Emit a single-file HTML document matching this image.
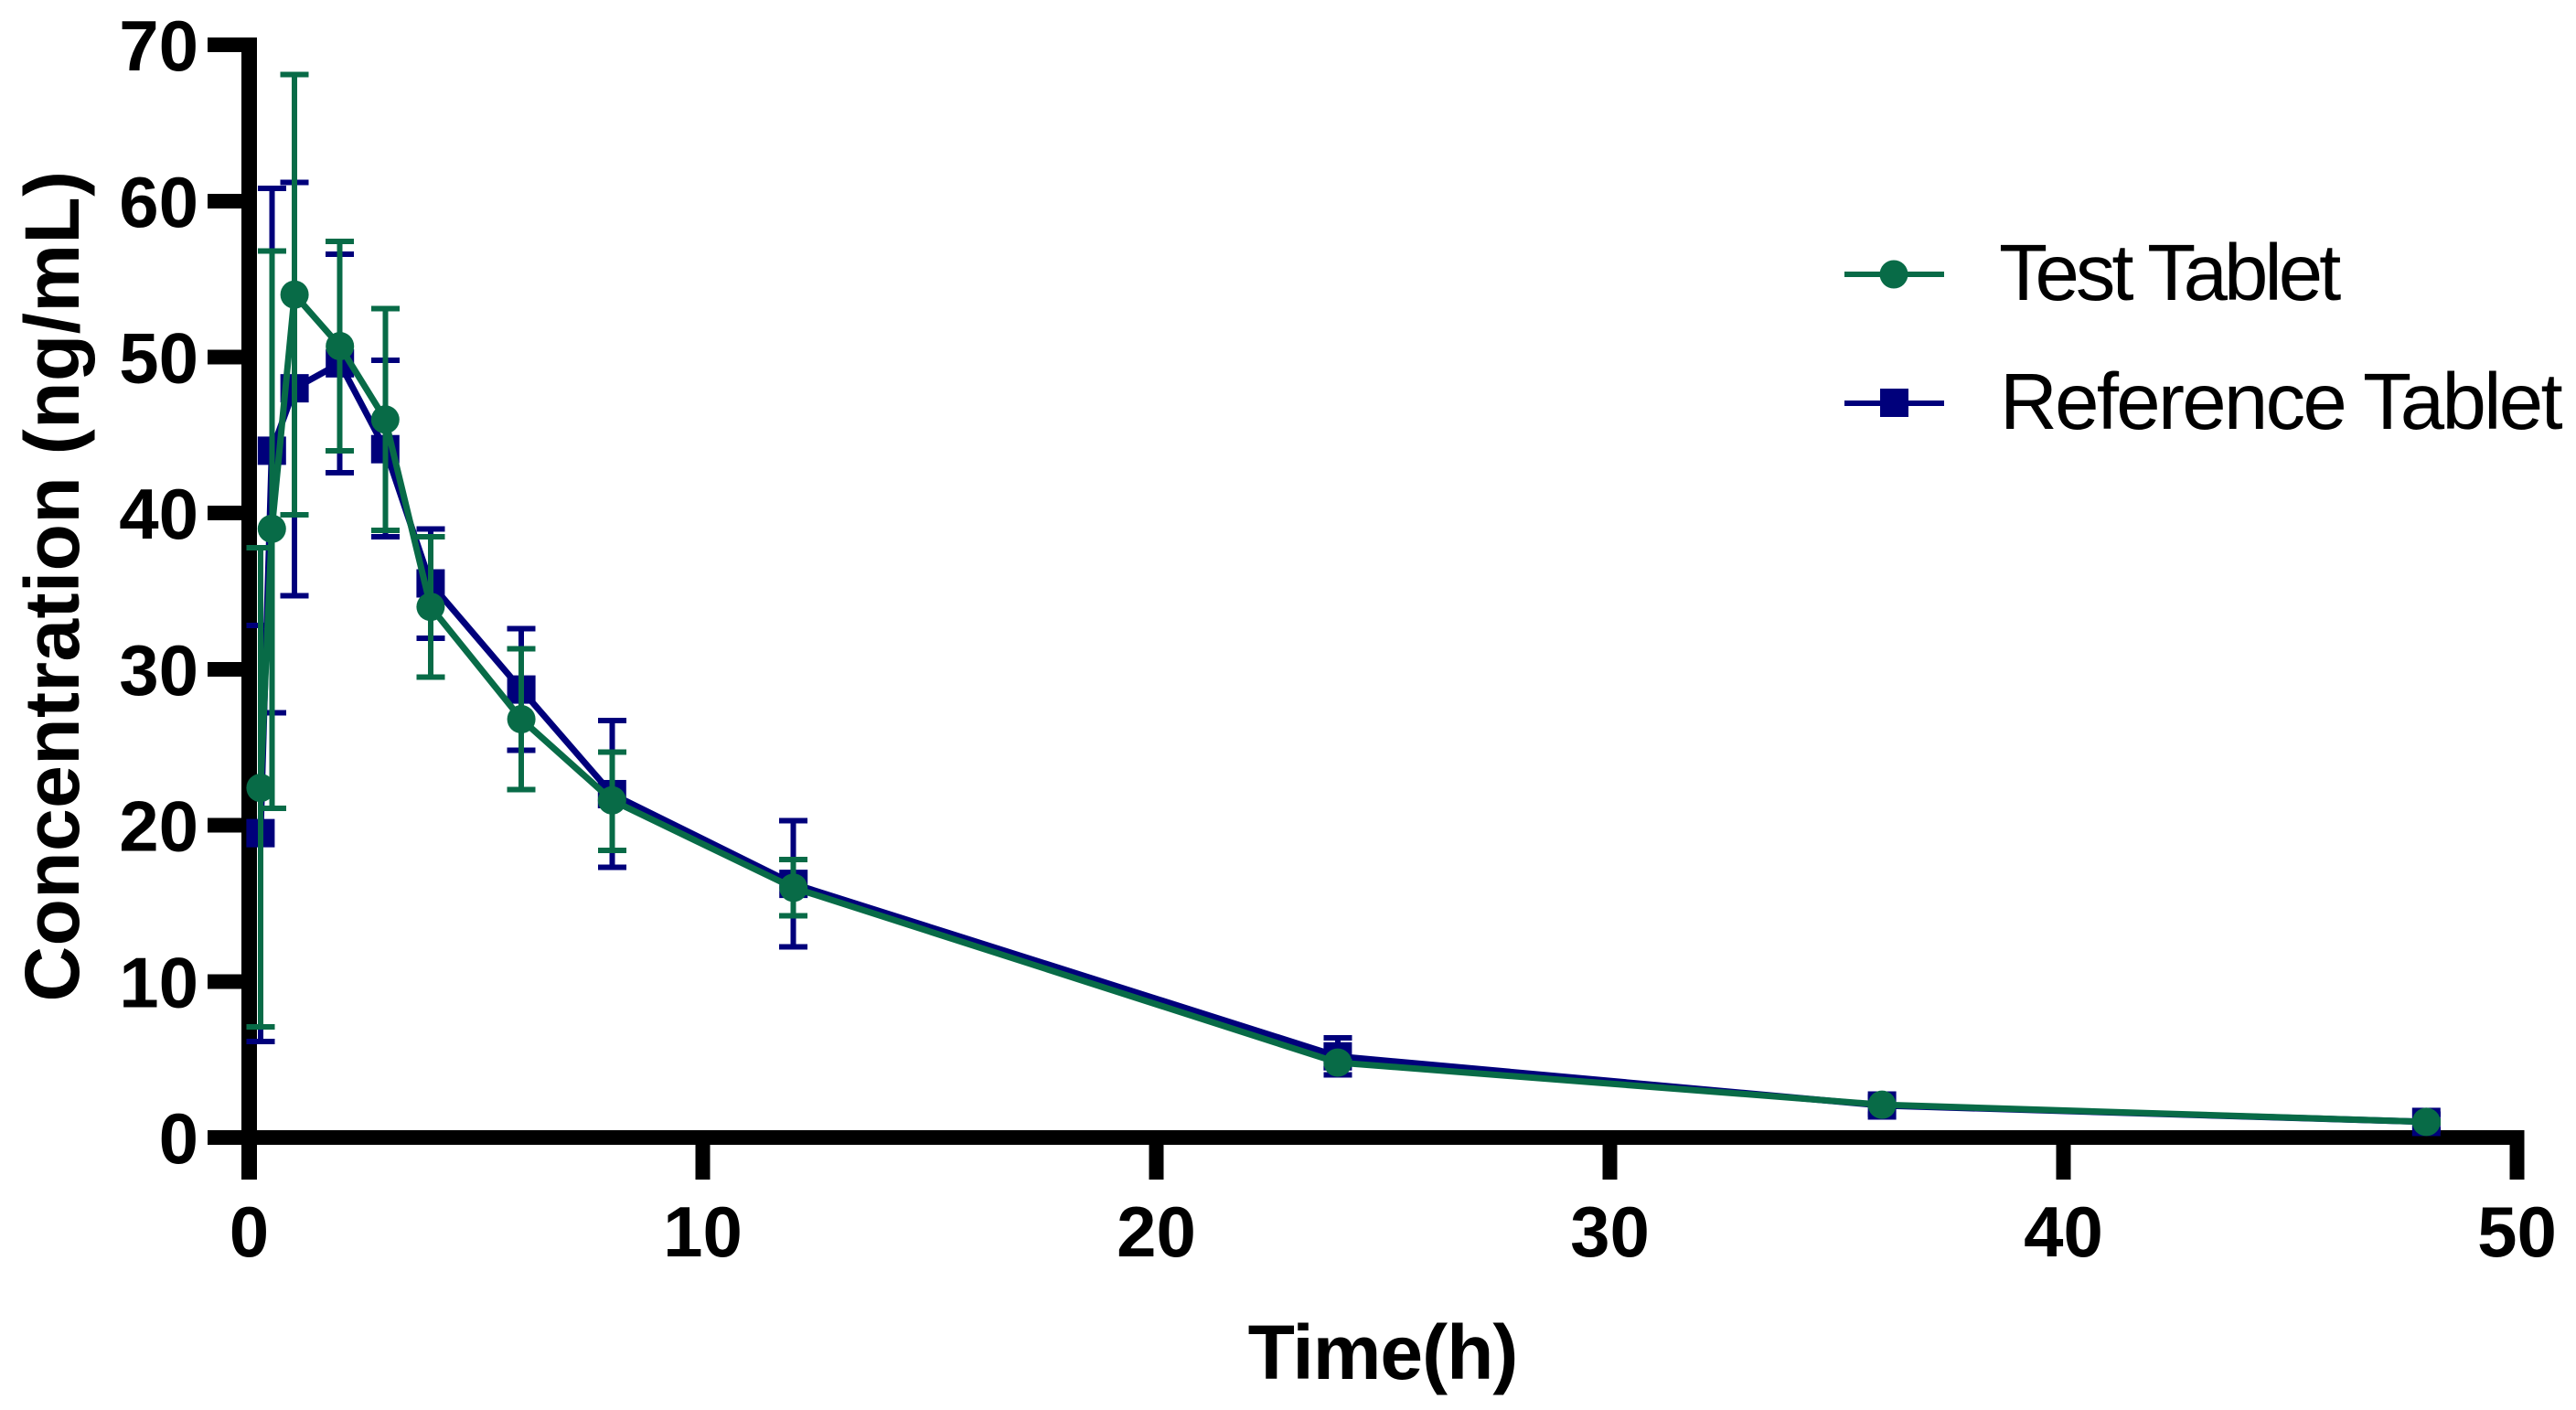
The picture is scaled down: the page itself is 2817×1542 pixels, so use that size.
<!DOCTYPE html>
<html lang="en">
<head>
<meta charset="utf-8">
<title>Concentration vs Time</title>
<style>
html,body{margin:0;padding:0;background:#fff;width:2817px;height:1542px;overflow:hidden}
svg{display:block;font-family:"Liberation Sans",Arial,sans-serif}
.tick-label{font-weight:700;font-size:78px;fill:#000}
.axis-title{font-weight:700;font-size:84px;fill:#000}
.legend-text{font-size:87px;letter-spacing:-4px;fill:#000}
</style>
</head>
<body>
<svg id="chart" xmlns="http://www.w3.org/2000/svg" width="2817" height="1542" viewBox="0 0 2817 1542">
  <rect x="0" y="0" width="2817" height="1542" fill="#fff"/>
  <g id="axes" shape-rendering="crispEdges"></g>
  <g id="series"></g>
  <text class="axis-title" style="letter-spacing:-1px" x="1512" y="1508" text-anchor="middle">Time(h)</text>
  <text class="axis-title" style="letter-spacing:0.4px" transform="translate(86,641) rotate(-90)" text-anchor="middle">Concentration (ng/mL)</text>
  <g>
    <g>
      <line x1="2017" y1="300" x2="2126" y2="300" stroke="#086b47" stroke-width="6"/>
      <circle cx="2071" cy="300" r="15.5" fill="#086b47"/>
      <text class="legend-text" x="2186" y="328">Test Tablet</text>
    </g>
    <g>
      <line x1="2017" y1="441" x2="2126" y2="441" stroke="#00007b" stroke-width="6"/>
      <rect x="2056" y="425" width="31" height="31" fill="#00007b"/>
      <text class="legend-text" style="letter-spacing:-2.7px" x="2187" y="469">Reference Tablet</text>
    </g>
  </g>
</svg>
<script>
const timePoints = [0.25, 0.5, 1, 2, 3, 4, 6, 8, 12, 24, 36, 48];
const testMean  = [22.4, 39.0, 54.0, 50.7, 46.0, 34.0, 26.8, 21.6, 16.0, 4.8, 2.1, 1.0];
const testUpper = [37.8, 56.8, 68.1, 57.4, 53.1, 38.5, 31.3, 24.7, 17.8, 4.85, 2.15, 1.05];
const testLower = [7.1, 21.1, 39.9, 44.0, 38.9, 29.5, 22.3, 18.4, 14.2, 4.75, 2.05, 0.95];
const refMean  = [19.5, 44.0, 48.0, 49.6, 44.1, 35.5, 28.7, 22.0, 16.25, 5.2, 2.05, 1.0];
const refUpper = [32.8, 60.8, 61.2, 56.6, 49.8, 39.0, 32.6, 26.7, 20.3, 6.4, 2.6, 1.5];
const refLower = [6.15, 27.2, 34.7, 42.6, 38.5, 32.0, 24.8, 17.3, 12.2, 4.0, 1.5, 0.5];
const xTickLabels = [0, 10, 20, 30, 40, 50];
const yTickLabels = [0, 10, 20, 30, 40, 50, 60, 70];

const SVG_NS = 'http://www.w3.org/2000/svg';
const X0 = 272.5, X_PER_UNIT = 49.6;
const Y0 = 1244, Y_PER_UNIT = 17.07;
const GREEN = '#086b47', NAVY = '#00007b';
function xScale(v) { return X0 + v * X_PER_UNIT; }
function yScale(v) { return Y0 - v * Y_PER_UNIT; }
function make(tag, parent) {
  const el = document.createElementNS(SVG_NS, tag);
  parent.appendChild(el);
  return el;
}
function lineAt(el, x1, y1, x2, y2, color, width) {
  el.setAttribute('x1', x1);
  el.setAttribute('y1', y1);
  el.setAttribute('x2', x2);
  el.setAttribute('y2', y2);
  el.setAttribute('stroke', color);
  el.setAttribute('stroke-width', width);
}

const axes = document.getElementById('axes');

const yAxisLine = make('line', axes);


lineAt(yAxisLine, 272.5, yScale(70) - 8, 272.5, 1290, '#000', 17);

const xAxisLine = make('line', axes);


lineAt(xAxisLine, 227, Y0, xScale(50) + 8, Y0, '#000', 16);

yTickLabels.forEach(function (t) {
  const tick = make('line', axes);
  
  
  lineAt(tick, 227, yScale(t), 272, yScale(t), '#000', 16);
  const label = make('text', document.getElementById('chart'));
  
  
  label.setAttribute('class', 'tick-label');
  label.setAttribute('x', 217);
  label.setAttribute('y', yScale(t) + 28);
  label.setAttribute('text-anchor', 'end');
  label.textContent = t;
});

xTickLabels.forEach(function (t) {
  const tick = make('line', axes);
  
  
  lineAt(tick, xScale(t), Y0, xScale(t), 1290, '#000', t === 0 ? 17 : 16);
  const label = make('text', document.getElementById('chart'));
  
  
  label.setAttribute('class', 'tick-label');
  label.setAttribute('x', xScale(t));
  label.setAttribute('y', 1374);
  label.setAttribute('text-anchor', 'middle');
  label.textContent = t;
});

const seriesLayer = document.getElementById('series');

function drawSeries(key, color, means, uppers, lowers, isCircle) {
  const group = make('g', seriesLayer);
  
  

  const path = make('polyline', group);
  
  
  path.setAttribute('fill', 'none');
  path.setAttribute('stroke', color);
  path.setAttribute('stroke-width', 7);
  path.setAttribute('points', timePoints.map(function (t, i) {
    return xScale(t) + ',' + yScale(means[i]);
  }).join(' '));

  timePoints.forEach(function (t, i) {
    const x = xScale(t);
    const stem = make('line', group);
    
    
    stem.setAttribute('shape-rendering', 'crispEdges');
    lineAt(stem, x, yScale(uppers[i]), x, yScale(lowers[i]), color, 6);

    const capTop = make('line', group);
    
    
    capTop.setAttribute('shape-rendering', 'crispEdges');
    lineAt(capTop, x - 15.5, yScale(uppers[i]), x + 15.5, yScale(uppers[i]), color, 6);

    const capBottom = make('line', group);
    
    
    capBottom.setAttribute('shape-rendering', 'crispEdges');
    lineAt(capBottom, x - 15.5, yScale(lowers[i]), x + 15.5, yScale(lowers[i]), color, 6);

    if (isCircle) {
      const dot = make('circle', group);
      
      
      dot.setAttribute('cx', x);
      dot.setAttribute('cy', yScale(means[i]));
      dot.setAttribute('r', 15.5);
      dot.setAttribute('fill', color);
    } else {
      const square = make('rect', group);
      
      
      square.setAttribute('x', x - 15.5);
      square.setAttribute('y', yScale(means[i]) - 15.5);
      square.setAttribute('width', 31);
      square.setAttribute('height', 31);
      square.setAttribute('fill', color);
    }
  });
}

drawSeries('reference-tablet', NAVY, refMean, refUpper, refLower, false);
drawSeries('test-tablet', GREEN, testMean, testUpper, testLower, true);
</script>
</body>
</html>
